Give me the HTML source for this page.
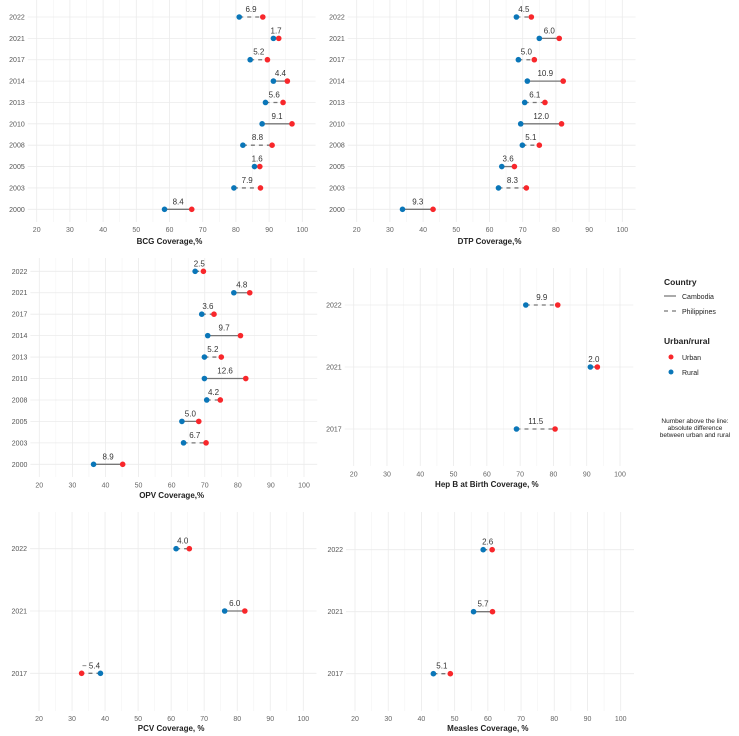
<!DOCTYPE html>
<html><head><meta charset="utf-8">
<style>
html,body{margin:0;padding:0;background:#fff;}
svg{display:block;font-family:"Liberation Sans",sans-serif;}
</style></head>
<body>
<svg id="chart" width="739" height="736" viewBox="0 0 739 736"></svg>
<script>
// ---- data ----
const yearsLong = ["2022","2021","2017","2014","2013","2010","2008","2005","2003","2000"];
const yearsShort = ["2022","2021","2017"];
const countryLong = ["PH","KH","PH","KH","PH","KH","PH","KH","PH","KH"];
const countryShort = ["PH","KH","PH"];
const bcgRural = [81.0,91.3,84.3,91.3,88.9,87.9,82.1,85.6,79.4,58.5];
const bcgUrban = [88.1,92.9,89.5,95.5,94.2,96.9,90.9,87.2,87.4,66.7];
const bcgLabels = ["6.9","1.7","5.2","4.4","5.6","9.1","8.8","1.6","7.9","8.4"];
const dtpRural = [68.1,75.0,68.7,71.4,70.6,69.4,69.9,63.7,62.7,33.8];
const dtpUrban = [72.6,81.0,73.5,82.2,76.7,81.7,75.0,67.5,71.1,43.0];
const dtpLabels = ["4.5","6.0","5.0","10.9","6.1","12.0","5.1","3.6","8.3","9.3"];
const opvRural = [67.1,78.8,69.1,70.9,69.9,69.9,70.6,63.1,63.6,36.4];
const opvUrban = [69.6,83.6,72.8,80.8,75.0,82.4,74.7,68.2,70.4,45.2];
const opvLabels = ["2.5","4.8","3.6","9.7","5.2","12.6","4.2","5.0","6.7","8.9"];
const hepRural = [71.7,91.1,68.9];
const hepUrban = [81.3,93.2,80.5];
const hepLabels = ["9.9","2.0","11.5"];
const pcvRural = [61.5,76.2,38.6];
const pcvUrban = [65.5,82.3,32.9];
const pcvLabels = ["4.0","6.0","− 5.4"];
const mslRural = [58.6,55.7,43.6];
const mslUrban = [61.3,61.4,48.7];
const mslLabels = ["2.6","5.7","5.1"];
const ticks = [20,30,40,50,60,70,80,90,100];

const NS="http://www.w3.org/2000/svg";
const svg=document.getElementById('chart');
function mk(tag,attrs,parent){const e=document.createElementNS(NS,tag);for(const k in attrs)e.setAttribute(k,attrs[k]);(parent||svg).appendChild(e);return e;}

const panels=[
 {id:"bcg",title:"BCG Coverage,%",x20:36.7,x100:302.3,top:0,bottom:222,yFirst:17,yLast:209.3,tickY:232,titleY:244,years:yearsLong,country:countryLong,rural:bcgRural,urban:bcgUrban,labels:bcgLabels},
 {id:"dtp",title:"DTP Coverage,%",x20:356.7,x100:622.3,top:0,bottom:222,yFirst:17,yLast:209.3,tickY:232,titleY:244,years:yearsLong,country:countryLong,rural:dtpRural,urban:dtpUrban,labels:dtpLabels},
 {id:"opv",title:"OPV Coverage,%",x20:39.3,x100:304,top:258,bottom:477,yFirst:271.3,yLast:464.3,tickY:487.5,titleY:498,years:yearsLong,country:countryLong,rural:opvRural,urban:opvUrban,labels:opvLabels},
 {id:"hepb",title:"Hep B at Birth Coverage, %",x20:353.7,x100:620,top:268,bottom:466,yFirst:305,yLast:429,tickY:476.5,titleY:487,years:yearsShort,country:countryShort,rural:hepRural,urban:hepUrban,labels:hepLabels},
 {id:"pcv",title:"PCV Coverage, %",x20:39,x100:303.3,top:512,bottom:711,yFirst:548.7,yLast:673.3,tickY:721,titleY:731,years:yearsShort,country:countryShort,rural:pcvRural,urban:pcvUrban,labels:pcvLabels},
 {id:"measles",title:"Measles Coverage, %",x20:355,x100:620.7,top:512,bottom:711,yFirst:549.7,yLast:673.7,tickY:721,titleY:731,years:yearsShort,country:countryShort,rural:mslRural,urban:mslUrban,labels:mslLabels}
];

panels.forEach(p=>{
  const g=mk('g',{});
  
  
  const sx=v=>p.x20+(v-20)*(p.x100-p.x20)/80;
  const n=p.years.length;
  const sy=i=>p.yFirst+i*(p.yLast-p.yFirst)/(n-1);
  const left=sx(17.3), right=sx(104);
  // minor vertical grid
  for(let v=25;v<=95;v+=10){const l=mk('line',{x1:sx(v),x2:sx(v),y1:p.top,y2:p.bottom,stroke:"#f3f3f3","stroke-width":0.6},g);}
  ticks.forEach(t=>{
    const l=mk('line',{x1:sx(t),x2:sx(t),y1:p.top,y2:p.bottom,stroke:"#ebebeb","stroke-width":0.8},g);
    
    const tx=mk('text',{x:sx(t),y:p.tickY,"font-size":7,fill:"#666","text-anchor":"middle"},g);
    tx.textContent=t;
    
  });
  p.years.forEach((yr,i)=>{
    const l=mk('line',{x1:left,x2:right,y1:sy(i),y2:sy(i),stroke:"#ebebeb","stroke-width":0.8},g);
    
    const tx=mk('text',{x:left-3,y:sy(i)+2.5,"font-size":7,fill:"#555","text-anchor":"end"},g);
    tx.textContent=yr;
    
  });
  const tt=mk('text',{x:(p.x20+p.x100)/2,y:p.titleY,"font-size":8,"font-weight":"bold",fill:"#222","text-anchor":"middle"},g);
  tt.textContent=p.title;
  
  p.years.forEach((yr,i)=>{
    const xr=sx(p.rural[i]), xu=sx(p.urban[i]), y=sy(i);
    const attrs={x1:xr,x2:xu,y1:y,y2:y,stroke:"#777","stroke-width":1.3};
    if(p.country[i]==="PH") attrs["stroke-dasharray"]="4,4";
    const seg=mk('line',attrs,g);
    
    const cu=mk('circle',{cx:xu,cy:y,r:2.8,fill:"#f8272b"},g);
    
    const cr=mk('circle',{cx:xr,cy:y,r:2.8,fill:"#0a76b8"},g);
    
    const lb=mk('text',{x:(xr+xu)/2,y:y-5,"font-size":8,fill:"#333","text-anchor":"middle"},g);
    lb.textContent=p.labels[i];
    
  });
});

// legend
const lg=mk('g',{});


function txt(x,y,s,fs,bold,anchor){const t=mk('text',{x:x,y:y,"font-size":fs,fill:"#222","font-weight":bold?"bold":"normal","text-anchor":anchor||"start"},lg);t.textContent=s;return t;}
let t;
t=txt(664,285,"Country",8.5,true);
let l=mk('line',{x1:664,x2:676,y1:296,y2:296,stroke:"#555","stroke-width":1},lg);
t=txt(682,299,"Cambodia",7,false);
l=mk('line',{x1:664,x2:676,y1:311,y2:311,stroke:"#555","stroke-width":1,"stroke-dasharray":"4,4"},lg);
t=txt(682,314,"Philippines",7,false);
t=txt(664,344,"Urban/rural",8.5,true);
let c=mk('circle',{cx:671,cy:357,r:2.5,fill:"#f8272b"},lg);
t=txt(682,360,"Urban",7,false);
c=mk('circle',{cx:671,cy:372,r:2.5,fill:"#0a76b8"},lg);
t=txt(682,375,"Rural",7,false);
t=txt(695,423,"Number above the line:",6.5,false,"middle");
t=txt(695,430,"absolute difference",6.5,false,"middle");
t=txt(695,437,"between urban and rural",6.5,false,"middle");
</script>
</body></html>
